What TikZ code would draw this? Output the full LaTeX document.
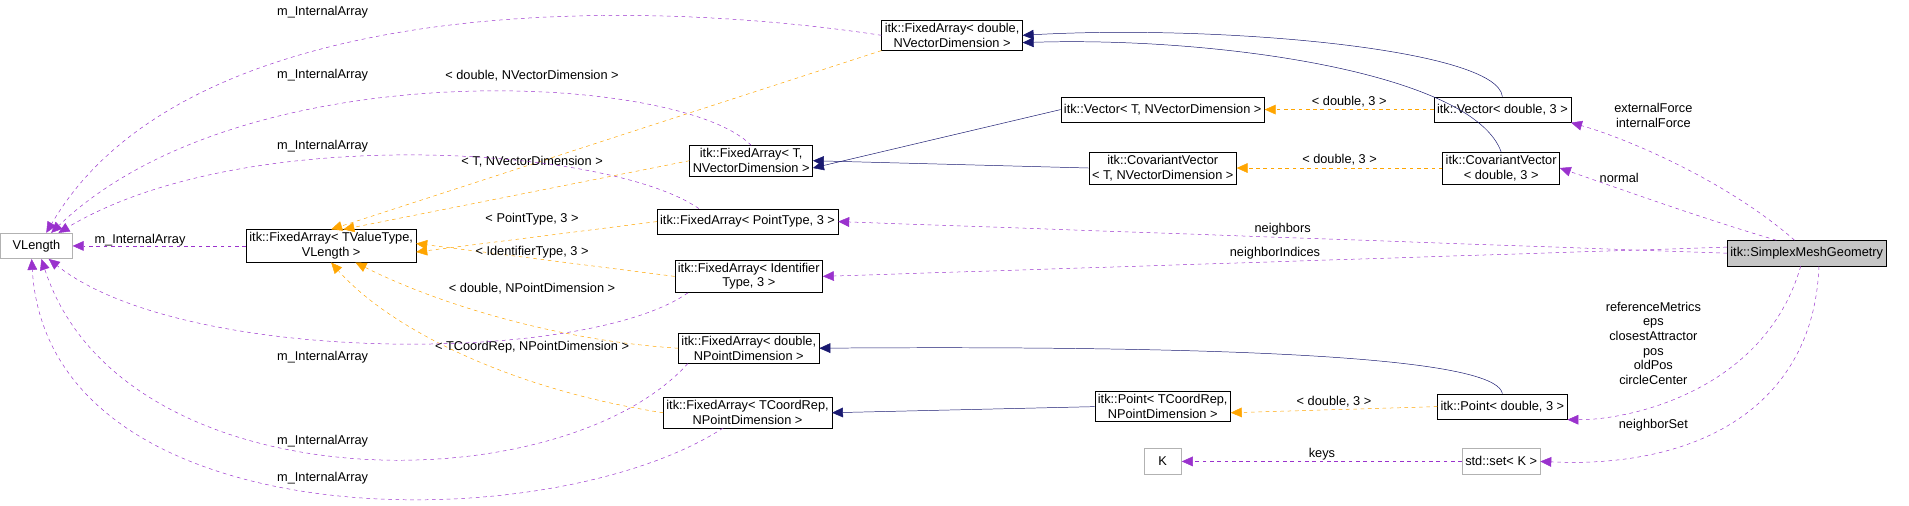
\documentclass[tikz,border=0pt]{standalone}
\usepackage{fontspec}
\setmainfont{Liberation Sans}
\usetikzlibrary{arrows.meta}
\definecolor{bl}{RGB}{25,25,112}
\definecolor{og}{RGB}{255,165,0}
\definecolor{pu}{RGB}{154,50,205}
\tikzset{
 box/.style={draw=black,fill=white,align=center,font=\fontsize{10.5}{12}\selectfont,inner sep=2.5pt,minimum height=21pt},
 gbox/.style={box,draw=gray!60},
 inh/.style={draw=bl,-{Triangle[open,length=9pt,width=8pt,fill=bl]}},
 tmpl/.style={draw=og,dashed,-{Triangle[length=9pt,width=8pt,fill=og]}},
 mem/.style={draw=pu,dashed,-{Triangle[length=9pt,width=8pt,fill=pu]}},
 lab/.style={font=\fontsize{10.5}{12}\selectfont,align=center,inner sep=0pt}
}
\begin{document}
\begin{tikzpicture}[x=1pt,y=-1pt]
\useasboundingbox (0,0) rectangle (1568,415);
\node[gbox,text width=54pt] (VL) at (30,202) {VLength};
\node[box] (FTV) at (272,202) {itk::FixedArray< TValueType,\\VLength >};
\node[box] (FDNV) at (782,29) {itk::FixedArray< double,\\NVectorDimension >};
\node[box] (FTNV) at (617,132) {itk::FixedArray< T,\\NVectorDimension >};
\node[box] (FPT) at (614,182) {itk::FixedArray< PointType, 3 >};
\node[box] (FID) at (615,227) {itk::FixedArray< Identifier\\Type, 3 >};
\node[box] (FDNP) at (615,286) {itk::FixedArray< double,\\NPointDimension >};
\node[box] (FTC) at (614,339) {itk::FixedArray< TCoordRep,\\NPointDimension >};
\node[box] (VT) at (955,90) {itk::Vector< T, NVectorDimension >};
\node[box] (CVT) at (955,138) {itk::CovariantVector\\< T, NVectorDimension >};
\node[box] (VD) at (1234,90) {itk::Vector< double, 3 >};
\node[box] (CVD) at (1233,138) {itk::CovariantVector\\< double, 3 >};
\node[box,fill=gray!45] (SM) at (1484,208) {itk::SimplexMeshGeometry};
\node[box] (PT) at (955,334) {itk::Point< TCoordRep,\\NPointDimension >};
\node[box] (PD) at (1234,334) {itk::Point< double, 3 >};
\node[gbox,minimum width=31pt] (K) at (955,379) {K};
\node[gbox] (SS) at (1233,379) {std::set< K >};
% inheritance
\draw[inh] (VD.north) .. controls (1230,40) and (1000,20) .. (FDNV.east);
\draw[inh] (CVD.north) .. controls (1210,60) and (1000,30) .. ([yshift=-6pt]FDNV.east);
\draw[inh] (VT.west) -- ([yshift=-6pt]FTNV.east);
\draw[inh] (CVT.west) -- ([yshift=0pt]FTNV.east);
\draw[inh] (PD.north) .. controls (1230,300) and (1100,283) .. (FDNP.east);
\draw[inh] (PT.west) -- (FTC.east);
% template
\draw[tmpl] (VD.west) -- node[lab,above=2pt,text=black]{< double, 3 >} (VT.east);
\draw[tmpl] (CVD.west) -- node[lab,above=2pt,text=black]{< double, 3 >} (CVT.east);
\draw[tmpl] (PD.west) -- node[lab,above=2pt,text=black]{< double, 3 >} ([yshift=-5pt]PT.east);
\draw[tmpl] (FDNV.south west) -- (FTV.north);
\draw[tmpl] (FTNV.west) -- ([xshift=10pt]FTV.north);
\draw[tmpl] (FPT.west) -- ([yshift=-5pt]FTV.east);
\draw[tmpl] (FID.west) -- ([yshift=2pt]FTV.east);
\draw[tmpl] (FDNP.west) .. controls (460,280) and (360,250) .. ([xshift=20pt]FTV.south);
\draw[tmpl] (FTC.west) .. controls (420,320) and (320,270) .. (FTV.south);
\node[lab] (l1) at (437,62) {< double, NVectorDimension >};
\node[lab] (l2) at (437,133) {< T, NVectorDimension >};
\node[lab] (l3) at (437,180) {< PointType, 3 >};
\node[lab] (l4) at (437,207) {< IdentifierType, 3 >};
\node[lab] (l5) at (437,237) {< double, NPointDimension >};
\node[lab] (l6) at (437,285) {< TCoordRep, NPointDimension >};
% members to VLength
\draw[mem] (FDNV.west) .. controls (500,-5) and (150,0) .. ([xshift=8pt]VL.north);
\draw[mem] (FTNV.north) .. controls (560,60) and (200,40) .. ([xshift=12pt]VL.north);
\draw[mem] ([xshift=-40pt]FPT.north) .. controls (500,120) and (200,100) .. ([xshift=18pt]VL.north);
\draw[mem] (FTV.west) -- (VL.east);
\draw[mem] ([xshift=-50pt]FID.south) .. controls (480,300) and (150,300) .. ([xshift=10pt]VL.south);
\draw[mem] ([xshift=-50pt]FDNP.south) .. controls (460,415) and (100,415) .. ([xshift=4pt]VL.south);
\draw[mem] ([xshift=-20pt]FTC.south) .. controls (450,445) and (40,445) .. ([xshift=-4pt]VL.south);
\node[lab] (m1) at (265,10) {m\_InternalArray};
\node[lab] (m2) at (265,62) {m\_InternalArray};
\node[lab] (m3) at (265,120) {m\_InternalArray};
\node[lab] (m4) at (115,197) {m\_InternalArray};
\node[lab] (m5) at (265,293) {m\_InternalArray};
\node[lab] (m6) at (265,362) {m\_InternalArray};
\node[lab] (m7) at (265,393) {m\_InternalArray};
% members from SimplexMesh
\draw[mem] ([xshift=-10pt]SM.north) .. controls (1420,150) and (1340,115) .. (VD.south east);
\node[lab] at (1358,95) {externalForce\\internalForce};
\draw[mem] ([xshift=-25pt]SM.north) .. controls (1400,180) and (1330,155) .. (CVD.east);
\node[lab] at (1330,146) {normal};
\draw[mem] (SM.west) -- node[lab,above=2pt]{neighbors} (FPT.east);
\draw[mem] ([yshift=5pt]SM.west) -- node[lab,above=2pt]{neighborIndices} (FID.east);
\draw[mem] ([xshift=-5pt]SM.south) .. controls (1450,320) and (1340,345) .. (PD.south east);
\node[lab] at (1358,282) {referenceMetrics\\eps\\closestAttractor\\pos\\oldPos\\circleCenter};
\draw[mem] ([xshift=10pt]SM.south) .. controls (1490,330) and (1400,385) .. (SS.east);
\node[lab] at (1358,349) {neighborSet};
\draw[mem] (SS.west) -- node[lab,above=1pt]{keys} (K.east);
\end{tikzpicture}
\end{document}
